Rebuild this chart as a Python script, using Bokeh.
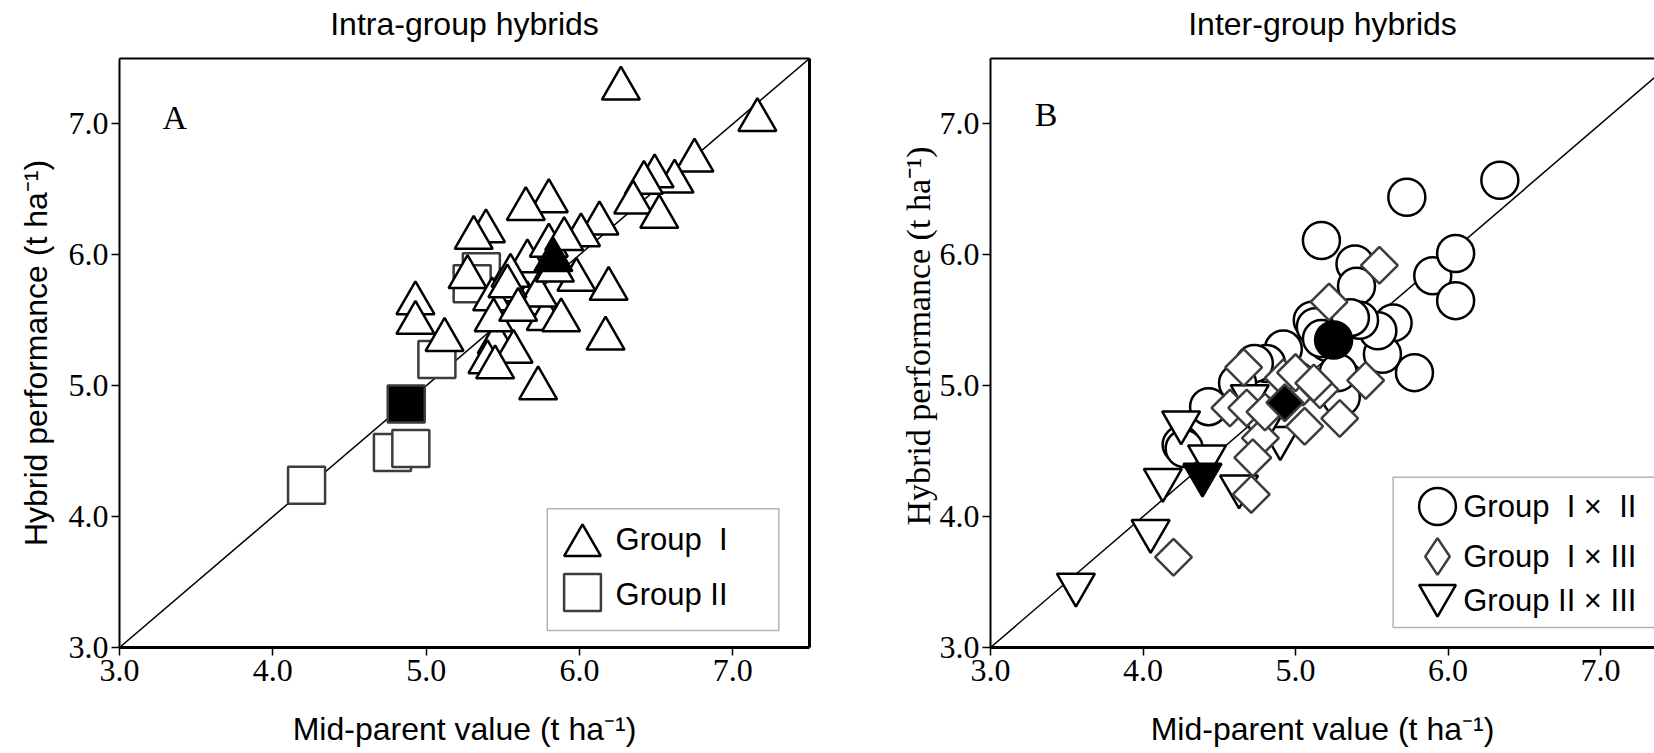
import math

from bokeh.embed import file_html
from bokeh.layouts import row
from bokeh.models import (BoxAnnotation, FixedTicker, Label, Legend, LegendItem, LinearAxis,
                          Range1d)
from bokeh.plotting import figure
from bokeh.resources import INLINE

# ---------------- data (t/ha) ----------------
tick_values = [3, 4, 5, 6, 7]
tick_labels = ["3.0", "4.0", "5.0", "6.0", "7.0"]

# Panel A - intra-group hybrids
g1_mid = [6.27, 7.16, 6.75, 6.62, 6.49, 6.42, 6.35, 6.52, 6.13, 6.01,
          5.80, 5.65, 5.39, 5.31, 5.27, 4.93, 4.93, 5.12, 6.17, 6.19,
          5.73, 5.46, 5.57, 5.40, 5.45, 5.49, 5.43, 5.44, 5.66, 5.78,
          5.88, 5.66, 5.80, 5.90, 5.98, 5.55, 5.73, 5.53, 5.84, 5.60]
g1_hyb = [7.27, 7.03, 6.72, 6.56, 6.60, 6.55, 6.40, 6.29, 6.24, 6.15,
          6.41, 6.35, 6.18, 6.13, 5.83, 5.63, 5.48, 5.35, 5.36, 5.74,
          4.98, 5.33, 5.26, 5.18, 5.14, 5.73, 5.66, 5.50, 5.63, 5.51,
          5.50, 5.95, 6.07, 6.12, 5.81, 5.84, 5.69, 5.76, 5.88, 5.58]
g1_mean_mid = [5.83]
g1_mean_hyb = [5.96]

g2_mid = [4.22, 4.78, 4.90, 5.07, 5.36, 5.30]
g2_hyb = [4.24, 4.49, 4.52, 5.20, 5.87, 5.78]
g2_mean_mid = [4.87]
g2_mean_hyb = [4.86]

# Panel B - inter-group hybrids
g12_mid = [6.34, 5.73, 5.17, 5.39, 5.40, 5.90, 6.05, 6.05, 5.64, 5.78,
           5.57, 5.54, 5.42, 5.11, 5.13, 5.21, 5.32, 5.30, 4.92, 4.81,
           4.73, 4.62, 4.43, 4.25, 4.27, 5.01, 5.28, 5.36, 5.17]
g12_hyb = [6.57, 6.44, 6.11, 5.93, 5.76, 5.84, 6.01, 5.65, 5.48, 5.10,
           5.24, 5.42, 5.50, 5.50, 5.45, 5.33, 5.04, 4.91, 5.28, 5.17,
           5.17, 5.02, 4.84, 4.55, 4.52, 5.04, 5.10, 5.52, 5.36]
g12_mean_mid = [5.25]
g12_mean_hyb = [5.35]

g13_mid = [5.55, 5.22, 4.66, 5.46, 5.05, 5.16, 5.29, 5.06, 4.57, 4.68,
           4.92, 4.77, 4.72, 4.71, 4.20, 5.00, 5.12, 4.80]
g13_hyb = [5.92, 5.64, 5.14, 5.04, 4.99, 4.97, 4.75, 4.69, 4.83, 4.83,
           5.06, 4.60, 4.45, 4.17, 3.69, 5.10, 5.02, 4.80]
g13_mean_mid = [4.93]
g13_mean_hyb = [4.87]

g23_mid = [3.56, 4.05, 4.13, 4.25, 4.42, 4.63, 4.70, 4.90, 4.78]
g23_hyb = [3.48, 3.89, 4.28, 4.72, 4.46, 4.23, 4.92, 4.60, 4.68]
g23_mean_mid = [4.39]
g23_mean_hyb = [4.32]

# 1:1 reference line
one_to_one = [3.0, 7.5]

# legend entries (no-break spaces keep the roman numerals lined up)
NB = "\u00a0"
legend_a = ["Group " + NB + "I", "Group II"]
legend_b = ["Group " + NB + "I \u00d7 " + NB + "II",
            "Group " + NB + "I \u00d7 III",
            "Group II \u00d7 III"]

# ---------------- styling ----------------
SANS = "Liberation Sans"
SERIF = "Liberation Serif"
GREY = "#3c3c3c"
MSIZE = 37
TRI = 38
DIA = 26
LEG_GLYPH = 92  # legend markers are drawn at 0.4 x the glyph box


def style_axes(p, y_label, y_font, y_size, y_standoff):
    xa = p.xaxis[0]
    ya = p.yaxis[0]
    for ax in (xa, ya):
        ax.ticker = FixedTicker(ticks=tick_values)
        ax.major_label_overrides = dict(zip(tick_values, tick_labels))
        ax.major_label_text_font = SERIF
        ax.major_label_text_font_size = "32px"
        ax.major_label_text_color = "black"
        ax.major_tick_out = 8
        ax.major_tick_in = 0
        ax.minor_tick_out = 0
        ax.minor_tick_in = 0
        ax.major_tick_line_color = "black"
        ax.major_tick_line_width = 1.5
        ax.axis_line_color = "black"
        ax.axis_label_text_font_style = "normal"
        ax.axis_label_text_color = "black"
    xa.axis_line_width = 3
    ya.axis_line_width = 2
    xa.major_label_standoff = 4
    ya.major_label_standoff = 3
    xa.axis_label = "Mid-parent value (t ha\u207b\u00b9)"
    xa.axis_label_text_font = SANS
    xa.axis_label_text_font_size = "32px"
    xa.axis_label_standoff = 27
    ya.axis_label = y_label
    ya.axis_label_text_font = y_font
    ya.axis_label_text_font_size = y_size
    ya.axis_label_standoff = y_standoff


def frame_line(p, side, width, label=None):
    ax = LinearAxis(ticker=FixedTicker(ticks=[]), axis_line_width=width,
                    axis_line_color="black", major_tick_out=0, major_tick_in=0,
                    minor_tick_out=0, minor_tick_in=0)
    if label is not None:
        # panel heading sits on the top frame line
        ax.axis_label = label
        ax.axis_label_text_font = SANS
        ax.axis_label_text_font_size = "32px"
        ax.axis_label_text_font_style = "normal"
        ax.axis_label_text_color = "black"
        ax.axis_label_standoff = 17
    p.add_layout(ax, side)


def make_fig(width, x_end, border_left, border_right):
    p = figure(width=width, height=753, output_backend="svg", toolbar_location=None,
               x_range=Range1d(3.0, x_end), y_range=Range1d(3.0, 7.5),
               min_border_left=border_left, min_border_right=border_right,
               min_border_top=58, min_border_bottom=106, title=None)
    p.grid.visible = False
    p.outline_line_color = None
    p.background_fill_color = "white"
    p.border_fill_color = "white"
    p.line(one_to_one, one_to_one, line_color="black", line_width=1.5)
    return p


def legend_key(p, renderer, loc):
    # marker swatch only; the entry text is placed as a separate label
    leg = Legend(items=[LegendItem(label=" ", renderers=[renderer])],
                 location=loc, glyph_width=LEG_GLYPH, glyph_height=LEG_GLYPH,
                 padding=0, spacing=0, label_standoff=0, label_width=1, margin=0,
                 label_text_font_size="10px", border_line_color=None,
                 background_fill_alpha=0)
    p.add_layout(leg)


def legend_text(p, text, x, y):
    p.add_layout(Label(x=x, y=y, text=text, text_font=SANS, text_font_size="31px",
                       text_baseline="middle", text_color="black"))


# ---------------- panel A ----------------
pa = make_fig(827, 7.5, 119, 18)
style_axes(pa, "Hybrid performance (t ha\u207b\u00b9)", SANS, "32px", 12)
frame_line(pa, "above", 2, "Intra-group hybrids")
frame_line(pa, "right", 3)

r_sq = pa.scatter(g2_mid, g2_hyb, marker="square", size=MSIZE, fill_color="white",
                  line_color=GREY, line_width=2.5)
r_tri = pa.scatter(g1_mid, g1_hyb, marker="triangle", size=TRI, fill_color="white",
                   line_color="black", line_width=2.5)
pa.scatter(g2_mean_mid, g2_mean_hyb, marker="square", size=MSIZE, fill_color="black",
           line_color=GREY, line_width=2.5)
pa.scatter(g1_mean_mid, g1_mean_hyb, marker="triangle", size=TRI, fill_color="black",
           line_color="black", line_width=2.5)

pa.add_layout(Label(x=3.28, y=7.05, text="A", text_font=SERIF, text_font_size="34px",
                    text_baseline="middle", text_color="black"))

# legend frame, swatches and entry texts
pa.add_layout(BoxAnnotation(left=5.79, right=7.30, bottom=3.13, top=4.06,
                            fill_color="white", fill_alpha=1.0,
                            line_color="black", line_width=1.5))
legend_key(pa, r_tri, (417, 56))
legend_key(pa, r_sq, (417, 9))
legend_text(pa, legend_a[0], 6.235, 3.825)
legend_text(pa, legend_a[1], 6.235, 3.405)

# ---------------- panel B ----------------
pb = make_fig(827, 3.0 + 664 / 152.5, 163, 0)
# leading no-break spaces lift the serif axis title a little along the axis
style_axes(pb, NB * 4 + "Hybrid performance (t ha\u207b\u00b9)", SERIF, "34px", 0)
frame_line(pb, "above", 2, "Inter-group hybrids")

r_c = pb.scatter(g12_mid, g12_hyb, marker="circle", size=MSIZE, fill_color="white",
                 line_color="black", line_width=2.5)
r_it = pb.scatter(g23_mid, g23_hyb, marker="inverted_triangle", size=TRI, fill_color="white",
                  line_color="black", line_width=2.5)
r_d = pb.scatter(g13_mid, g13_hyb, marker="square", angle=math.pi / 4, size=DIA,
                 fill_color="white", line_color=GREY, line_width=2.5)
pb.scatter(g12_mean_mid, g12_mean_hyb, marker="circle", size=MSIZE, fill_color="black",
           line_color="black", line_width=2.5)
pb.scatter(g13_mean_mid, g13_mean_hyb, marker="square", angle=math.pi / 4, size=DIA,
           fill_color="black", line_color=GREY, line_width=2.5)
pb.scatter(g23_mean_mid, g23_mean_hyb, marker="inverted_triangle", size=TRI, fill_color="black",
           line_color="black", line_width=2.5)

# hidden diamond renderer used only as the legend swatch (legend glyphs ignore angle)
r_d_key = pb.scatter(g13_mean_mid, g13_mean_hyb, marker="diamond", size=DIA,
                     fill_color="white", line_color=GREY, line_width=2.5, visible=False)

pb.add_layout(Label(x=3.29, y=7.07, text="B", text_font=SERIF, text_font_size="34px",
                    text_baseline="middle", text_color="black"))

pb.add_layout(BoxAnnotation(left=5.64, right=7.6, bottom=3.153, top=4.30,
                            fill_color="white", fill_alpha=1.0,
                            line_color="black", line_width=1.5))
legend_key(pb, r_c, (401, 95))
legend_key(pb, r_d_key, (401, 45))
legend_key(pb, r_it, (401, 6))
legend_text(pb, legend_b[0], 6.10, 4.077)
legend_text(pb, legend_b[1], 6.10, 3.695)
legend_text(pb, legend_b[2], 6.10, 3.36)

layout = row(pa, pb)
open("out.html", "w").write(file_html(layout, INLINE))
